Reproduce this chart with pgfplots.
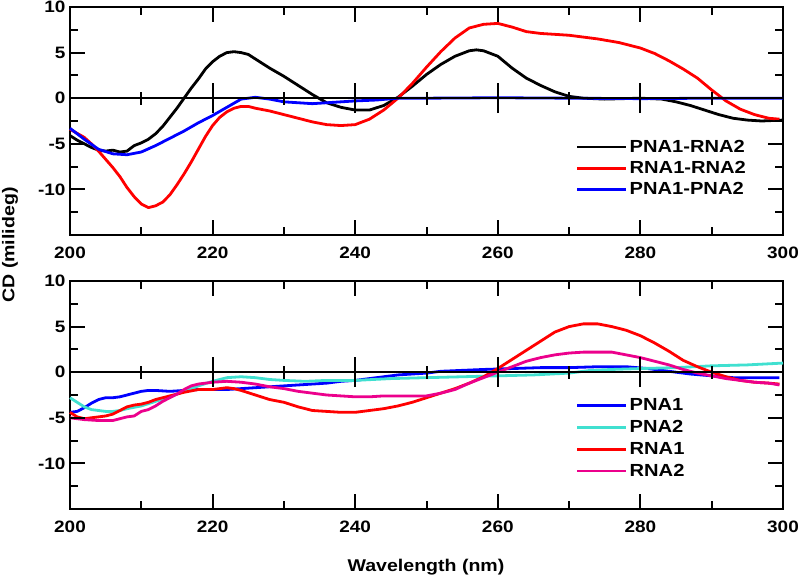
\documentclass[border=0pt]{standalone}
\usepackage{fontspec}
\setmainfont{Liberation Sans}[FakeStretch=1.15]
\usepackage{pgfplots}
\pgfplotsset{compat=1.18}
\definecolor{turq}{RGB}{64,224,208}
\tikzset{dl/.style={line width=2.8pt, line join=round},
  tk/.style={line width=2pt, black}}
% tick lengths in axis units: 9.12pt per y unit, 7.13pt per x unit
\newcommand{\cdticks}{%
  \draw[line width=1.4pt] (axis cs:200,0) -- (axis cs:300,0);
  \pgfplotsinvokeforeach{220,240,260,280}{%
    \draw[tk] (axis cs:##1,-15) -- (axis cs:##1,-13.36);
    \draw[tk] (axis cs:##1,10) -- (axis cs:##1,8.36);
    \draw[tk] (axis cs:##1,-1.64) -- (axis cs:##1,1.64);}
  \pgfplotsinvokeforeach{210,230,250,270,290}{%
    \draw[tk] (axis cs:##1,-15) -- (axis cs:##1,-14.12);
    \draw[tk] (axis cs:##1,10) -- (axis cs:##1,9.12);
    \draw[tk] (axis cs:##1,-0.71) -- (axis cs:##1,0.71);}
  \pgfplotsinvokeforeach{-10,-5,0,5}{%
    \draw[tk] (axis cs:200,##1) -- (axis cs:202.1,##1);
    \draw[tk] (axis cs:300,##1) -- (axis cs:297.9,##1);}
  \pgfplotsinvokeforeach{-12.5,-7.5,-2.5,2.5,7.5}{%
    \draw[tk] (axis cs:200,##1) -- (axis cs:201.12,##1);
    \draw[tk] (axis cs:300,##1) -- (axis cs:298.88,##1);}
}
\pgfplotsset{
  cdmain/.style={
    scale only axis, width=713pt, height=228pt,
    xmin=200, xmax=300, ymin=-15, ymax=10,
    clip=false,
    xtick={200,220,240,260,280,300},
    minor xtick={210,230,250,270,290},
    ytick={-10,-5,0,5,10},
    minor ytick={-12.5,-7.5,-2.5,2.5,7.5},
    /pgf/number format/assume math mode=true,
    tick label style={font=\fontsize{16.5}{18}\selectfont\bfseries},
    tick align=inside,
    major tick length=15pt, minor tick length=8pt,
    tick style={line width=2pt, black},
    axis line style={line width=1.8pt},
    xticklabel style={yshift=-8pt},
    yticklabel style={xshift=-1pt},
    legend image code/.code={\draw[##1] (0pt,0pt) -- (38pt,0pt); \path (0pt,0pt) -- (49pt,0pt);},
    legend cell align=left,
  },
}
\begin{document}
\begin{tikzpicture}
\useasboundingbox (0pt,0pt) rectangle (800pt,580pt);
% ---------- top panel ----------
\begin{axis}[cdmain, at={(70pt,345pt)}, anchor=south west,
  legend style={draw=none, fill=none, at={(0.705,0.434)}, anchor=north west,
    font=\fontsize{17.5}{21}\selectfont\bfseries, row sep=3.5pt}]
\addplot[dl, black] coordinates {
(200,-4.1) (201,-4.6) (202,-5.0) (203,-5.4) (204,-5.7) (205,-5.8) (206,-5.7) (207,-5.9) (208,-5.8) (209,-5.2) (210,-4.9) (211,-4.5) (212,-3.9) (213,-3.1) (214,-2.1) (215,-1.1) (216,0) (217,1.1) (218,2.1) (219,3.2) (220,4.0) (221,4.6) (222,5.0) (223,5.1) (224,5.0) (225,4.8) (226,4.3) (227,3.8) (228,3.3) (230,2.4) (232,1.4) (234,0.4) (236,-0.5) (238,-1.0) (240,-1.3) (242,-1.3) (244,-0.8) (246,0.1) (248,1.3) (250,2.6) (252,3.7) (254,4.6) (256,5.2) (257,5.3) (258,5.2) (260,4.6) (262,3.3) (264,2.2) (266,1.4) (268,0.7) (270,0.2) (272,0) (275,-0.1) (280,0) (283,-0.1) (285,-0.4) (287,-0.8) (289,-1.3) (291,-1.8) (293,-2.2) (295,-2.4) (297,-2.5) (300,-2.4)};
\addlegendentry{PNA1-RNA2}
\addplot[dl, red] coordinates {
(200,-3.4) (202,-4.3) (203,-5.0) (204,-5.8) (205,-6.7) (206,-7.6) (207,-8.6) (208,-9.8) (209,-10.8) (210,-11.6) (211,-12.0) (212,-11.8) (213,-11.4) (214,-10.6) (215,-9.5) (216,-8.3) (217,-7.0) (218,-5.6) (219,-4.2) (220,-3.0) (221,-2.1) (222,-1.5) (223,-1.1) (224,-0.9) (225,-0.9) (226,-1.1) (228,-1.4) (230,-1.8) (232,-2.2) (234,-2.6) (236,-2.9) (238,-3.0) (240,-2.9) (242,-2.3) (244,-1.3) (246,0) (248,1.6) (250,3.4) (252,5.1) (254,6.6) (256,7.7) (258,8.1) (260,8.2) (262,7.8) (264,7.3) (266,7.1) (270,6.9) (274,6.5) (277,6.1) (280,5.5) (282,4.9) (284,4.1) (286,3.2) (288,2.2) (290,0.9) (292,-0.3) (294,-1.2) (296,-1.8) (298,-2.2) (299.5,-2.3)};
\addlegendentry{RNA1-RNA2}
\addplot[dl, blue] coordinates {
(200,-3.3) (202,-4.5) (204,-5.6) (206,-6.1) (208,-6.2) (210,-5.9) (212,-5.2) (214,-4.4) (216,-3.6) (218,-2.7) (220,-1.9) (222,-1.0) (224,-0.1) (226,0.1) (228,-0.1) (230,-0.4) (232,-0.5) (234,-0.6) (236,-0.5) (238,-0.4) (240,-0.3) (243,-0.2) (246,0) (250,0) (260,0.05) (270,0) (280,-0.05) (290,0) (300,0)};
\addlegendentry{PNA1-PNA2}
\cdticks
\end{axis}
% ---------- bottom panel ----------
\begin{axis}[cdmain, at={(70pt,71pt)}, anchor=south west,
  legend style={draw=none, fill=none, at={(0.705,0.503)}, anchor=north west,
    font=\fontsize{17.5}{21}\selectfont\bfseries, row sep=4.3pt}]
\addplot[dl, blue] coordinates {
(200,-4.4) (201,-4.3) (202,-3.9) (203,-3.4) (204,-3.0) (205,-2.8) (206,-2.8) (207,-2.7) (208,-2.5) (209,-2.3) (210,-2.1) (211,-2.0) (212,-2.0) (214,-2.1) (216,-2.0) (218,-1.9) (220,-1.9) (222,-1.9) (224,-1.8) (226,-1.7) (228,-1.6) (230,-1.5) (232,-1.4) (234,-1.3) (236,-1.2) (238,-1.0) (240,-0.9) (242,-0.7) (244,-0.5) (246,-0.3) (248,-0.2) (250,-0.1) (252,0.1) (255,0.2) (258,0.3) (262,0.4) (266,0.5) (270,0.5) (274,0.6) (278,0.6) (281,0.4) (284,0.1) (287,-0.2) (290,-0.4) (293,-0.6) (296,-0.6) (299.5,-0.6)};
\addlegendentry{PNA1}
\addplot[dl, turq] coordinates {
(200,-2.8) (201,-3.3) (202,-3.8) (203,-4.1) (204,-4.2) (205,-4.3) (206,-4.3) (207,-4.2) (208,-4.0) (210,-3.7) (212,-3.2) (214,-2.7) (216,-2.1) (218,-1.5) (220,-1.0) (222,-0.6) (224,-0.5) (226,-0.6) (228,-0.8) (230,-0.9) (233,-1.0) (236,-0.9) (240,-0.9) (245,-0.7) (250,-0.6) (255,-0.5) (260,-0.4) (265,-0.3) (270,-0.1) (273,0.2) (276,0.3) (280,0.4) (285,0.5) (290,0.7) (295,0.8) (300,1.0)};
\addlegendentry{PNA2}
\addplot[dl, red] coordinates {
(200,-4.4) (201,-4.9) (202,-5.1) (203,-5.0) (204,-4.9) (205,-4.8) (206,-4.6) (207,-4.2) (208,-3.8) (209,-3.6) (210,-3.5) (211,-3.3) (212,-3.0) (214,-2.6) (216,-2.2) (218,-1.9) (220,-1.9) (222,-1.7) (223,-1.8) (224,-2.0) (226,-2.5) (228,-3.0) (230,-3.3) (232,-3.8) (234,-4.2) (236,-4.3) (238,-4.4) (240,-4.4) (242,-4.2) (244,-4.0) (246,-3.7) (248,-3.3) (250,-2.8) (252,-2.3) (254,-1.8) (256,-1.2) (258,-0.5) (260,0.4) (262,1.4) (264,2.4) (266,3.4) (268,4.4) (270,5.0) (272,5.3) (274,5.3) (276,5.0) (278,4.6) (280,4.0) (282,3.2) (284,2.3) (286,1.3) (288,0.6) (290,0) (292,-0.5) (294,-0.9) (296,-1.1) (298,-1.2) (299.5,-1.3)};
\addlegendentry{RNA1}
\addplot[dl, magenta] coordinates {
(200,-5.0) (202,-5.2) (204,-5.3) (206,-5.3) (207,-5.1) (208,-4.9) (209,-4.8) (210,-4.3) (211,-4.1) (212,-3.7) (213,-3.2) (214,-2.8) (215,-2.4) (216,-1.9) (217,-1.5) (218,-1.3) (220,-1.1) (222,-1.0) (224,-1.1) (226,-1.3) (228,-1.6) (230,-1.8) (232,-2.1) (234,-2.3) (236,-2.5) (238,-2.6) (240,-2.7) (242,-2.7) (244,-2.6) (246,-2.6) (248,-2.6) (250,-2.6) (252,-2.3) (254,-1.9) (256,-1.2) (258,-0.6) (260,0.0) (262,0.6) (264,1.2) (266,1.6) (268,1.9) (270,2.1) (272,2.2) (274,2.2) (276,2.2) (278,1.9) (280,1.6) (282,1.2) (284,0.8) (286,0.3) (288,-0.1) (290,-0.4) (292,-0.7) (294,-0.9) (296,-1.1) (298,-1.2) (299.5,-1.4)};
\addlegendentry{RNA2}
\cdticks
\end{axis}
% ---------- axis titles ----------
\node[rotate=90, font=\bfseries\fontsize{17}{19}\selectfont] at (10pt,335pt) {CD (milideg)};
\node[font=\bfseries\fontsize{17}{19}\selectfont] at (426pt,13pt) {Wavelength (nm)};
\end{tikzpicture}
\end{document}
